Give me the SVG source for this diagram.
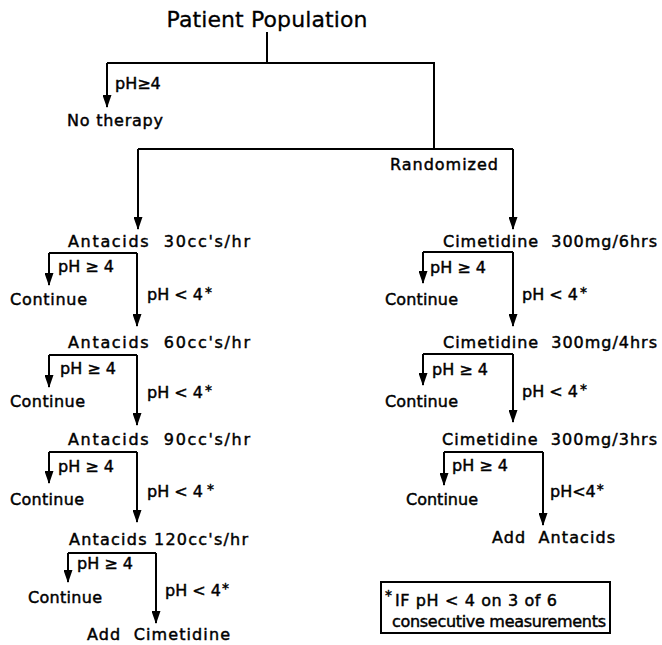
<svg xmlns="http://www.w3.org/2000/svg" width="662" height="645" viewBox="0 0 662 645">
<style>
  text { font-family: "DejaVu Sans", "Liberation Sans", sans-serif; font-size: 16px; fill: #000; stroke: #000; stroke-width: 0.45px; }
  .title { font-size: 22px; stroke-width: 0.3px; }
  .ast { font-size: 14px; }
  .edge { fill: none; stroke: #000; stroke-width: 2; }
  .arr { marker-end: url(#ah); }
  .box { fill: #fff; stroke: #000; stroke-width: 2; }
</style>
<defs>
  <marker id="ah" markerUnits="userSpaceOnUse" markerWidth="13" markerHeight="9" viewBox="0 0 13 9" refX="12" refY="4.5" orient="auto">
    <path d="M0,0 L13,4.5 L0,9 z" fill="#000"/>
  </marker>
</defs>
<rect width="662" height="645" fill="#fff"/>

<g id="connectors">
  <path class="edge" d="M267 32 V63"/>
  <path class="edge" d="M107 63 H434 V149"/>
  <path class="edge arr" d="M107 63 V107"/>
  <path class="edge" d="M138 149 H513"/>
  <path class="edge arr" d="M138 149 V229"/>
  <path class="edge arr" d="M513 149 V229"/>

  <path class="edge" d="M49 253 H137"/>
  <path class="edge arr" d="M49 253 V285"/>
  <path class="edge arr" d="M137 253 V326"/>
  <path class="edge" d="M49 355 H137"/>
  <path class="edge arr" d="M49 355 V387"/>
  <path class="edge arr" d="M137 355 V425"/>
  <path class="edge" d="M49 452 H137"/>
  <path class="edge arr" d="M49 452 V483"/>
  <path class="edge arr" d="M137 452 V522"/>
  <path class="edge" d="M68 553 H156"/>
  <path class="edge arr" d="M68 553 V582"/>
  <path class="edge arr" d="M156 553 V623"/>

  <path class="edge" d="M423 252 H513"/>
  <path class="edge arr" d="M423 252 V283"/>
  <path class="edge arr" d="M513 252 V326"/>
  <path class="edge" d="M423 354 H513"/>
  <path class="edge arr" d="M423 354 V385"/>
  <path class="edge arr" d="M513 354 V422"/>
  <path class="edge" d="M444 452 H543"/>
  <path class="edge arr" d="M444 452 V485"/>
  <path class="edge arr" d="M543 452 V525"/>
</g>

<g id="edge-labels">
  <text x="115" y="89">pH≥4</text>
  <text x="58" y="272">pH ≥ 4</text>
  <text x="147" y="300">pH &lt; 4<tspan class="ast" dx="2" dy="-3">*</tspan></text>
  <text x="60" y="374">pH ≥ 4</text>
  <text x="147" y="398">pH &lt; 4<tspan class="ast" dx="2" dy="-3">*</tspan></text>
  <text x="58" y="472">pH ≥ 4</text>
  <text x="147" y="497">pH &lt; 4<tspan class="ast" dx="4" dy="-3">*</tspan></text>
  <text x="77" y="569">pH ≥ 4</text>
  <text x="165" y="596">pH &lt; 4<tspan class="ast" dx="1" dy="-3">*</tspan></text>

  <text x="430" y="273">pH ≥ 4</text>
  <text x="522" y="300">pH &lt; 4<tspan class="ast" dx="2" dy="-3">*</tspan></text>
  <text x="432" y="375">pH ≥ 4</text>
  <text x="522" y="397">pH &lt; 4<tspan class="ast" dx="2" dy="-3">*</tspan></text>
  <text x="452" y="471">pH ≥ 4</text>
  <text x="550" y="497">pH&lt;4<tspan class="ast" dx="1" dy="-3">*</tspan></text>
</g>

<g id="patient-population"><text class="title" x="267" y="27" text-anchor="middle" textLength="201" lengthAdjust="spacing">Patient Population</text></g>
<g id="no-therapy"><text x="67" y="126" textLength="96" lengthAdjust="spacing">No therapy</text></g>
<g id="randomized"><text x="390" y="170" textLength="108" lengthAdjust="spacing">Randomized</text></g>

<g id="antacids-30"><text x="68" y="247" textLength="182" lengthAdjust="spacing" xml:space="preserve">Antacids  30cc's/hr</text></g>
<g id="continue-a1"><text x="10" y="305" textLength="77" lengthAdjust="spacing">Continue</text></g>
<g id="antacids-60"><text x="68" y="348" textLength="182" lengthAdjust="spacing" xml:space="preserve">Antacids  60cc's/hr</text></g>
<g id="continue-a2"><text x="10" y="407" textLength="75" lengthAdjust="spacing">Continue</text></g>
<g id="antacids-90"><text x="68" y="445" textLength="182" lengthAdjust="spacing" xml:space="preserve">Antacids  90cc's/hr</text></g>
<g id="continue-a3"><text x="10" y="505" textLength="74" lengthAdjust="spacing">Continue</text></g>
<g id="antacids-120"><text x="69" y="545" textLength="179" lengthAdjust="spacing">Antacids 120cc's/hr</text></g>
<g id="continue-a4"><text x="28" y="603" textLength="74" lengthAdjust="spacing">Continue</text></g>
<g id="add-cimetidine"><text x="87" y="640" textLength="143" lengthAdjust="spacing" xml:space="preserve">Add  Cimetidine</text></g>

<g id="cimetidine-6"><text x="443" y="247" textLength="214" lengthAdjust="spacing" xml:space="preserve">Cimetidine  300mg/6hrs</text></g>
<g id="continue-c1"><text x="385" y="305" textLength="73" lengthAdjust="spacing">Continue</text></g>
<g id="cimetidine-4"><text x="443" y="348" textLength="214" lengthAdjust="spacing" xml:space="preserve">Cimetidine  300mg/4hrs</text></g>
<g id="continue-c2"><text x="385" y="407" textLength="73" lengthAdjust="spacing">Continue</text></g>
<g id="cimetidine-3"><text x="442" y="445" textLength="215" lengthAdjust="spacing" xml:space="preserve">Cimetidine  300mg/3hrs</text></g>
<g id="continue-c3"><text x="406" y="505" textLength="72" lengthAdjust="spacing">Continue</text></g>
<g id="add-antacids"><text x="492" y="543" textLength="123" lengthAdjust="spacing" xml:space="preserve">Add  Antacids</text></g>

<g id="footnote">
  <rect class="box" x="381" y="582" width="229" height="51"/>
  <text class="ast" x="385" y="600">*</text>
  <text x="395" y="606" textLength="162" lengthAdjust="spacing">IF pH &lt; 4 on 3 of 6</text>
  <text x="392" y="627" textLength="214" lengthAdjust="spacing">consecutive measurements</text>
</g>
</svg>
